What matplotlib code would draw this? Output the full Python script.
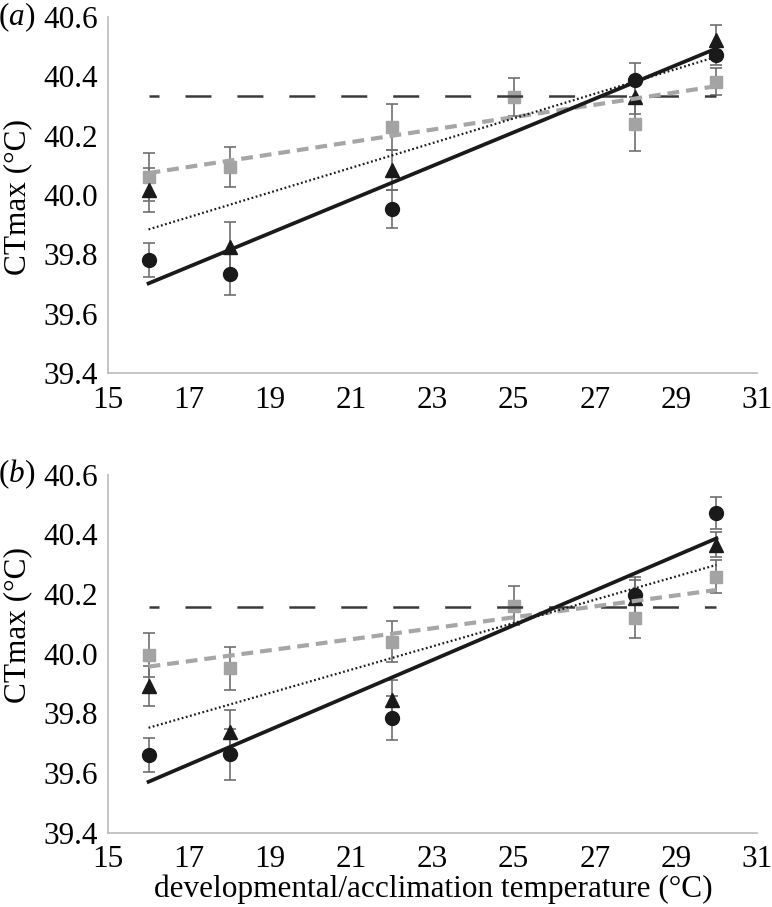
import matplotlib
matplotlib.use("Agg")
import matplotlib.pyplot as plt

plt.rcParams["font.family"] = ["Liberation Serif", "DejaVu Serif"]
plt.rcParams["mathtext.fontset"] = "custom"
plt.rcParams["mathtext.it"] = "Liberation Serif:italic"
plt.rcParams["mathtext.rm"] = "Liberation Serif"
plt.rcParams["lines.scale_dashes"] = False

# temperatures (°C)
temps_ct = [16, 18, 22, 28, 30]
temps_sq = [16, 18, 22, 25, 28, 30]
fit_x = [16, 30]

# panel (a)
circle_a = [39.781, 39.734, 39.952, 40.388, 40.472]
circle_a_err = [0.056, 0.070, 0.064, 0.058, 0.035]
tri_a = [40.017, 39.826, 40.084, 40.331, 40.522]
tri_a_err = [0.073, 0.084, 0.068, 0.058, 0.051]
square_a = [40.060, 40.095, 40.230, 40.331, 40.239, 40.382]
square_a_err = [0.080, 0.067, 0.077, 0.064, 0.091, 0.045]
fit_circle_a = [39.702, 40.494]
fit_tri_a = [39.884, 40.466]
fit_square_a = [40.074, 40.367]
flat_a = 40.335

# panel (b)
circle_b = [39.660, 39.662, 39.783, 40.196, 40.472]
circle_b_err = [0.058, 0.086, 0.073, 0.061, 0.054]
tri_b = [39.891, 39.738, 39.844, 40.187, 40.364]
tri_b_err = [0.066, 0.072, 0.067, 0.060, 0.042]
square_b = [39.995, 39.950, 40.040, 40.160, 40.120, 40.257]
square_b_err = [0.073, 0.073, 0.070, 0.066, 0.069, 0.055]
fit_circle_b = [39.570, 40.386]
fit_tri_b = [39.751, 40.297]
fit_square_b = [39.956, 40.213]
flat_b = 40.157

yticks = [39.4, 39.6, 39.8, 40.0, 40.2, 40.4, 40.6]
xticks = [15, 17, 19, 21, 23, 25, 27, 29, 31]

panels = [
    ("a", circle_a, circle_a_err, tri_a, tri_a_err, square_a, square_a_err,
     fit_circle_a, fit_tri_a, fit_square_a, flat_a, 197),
    ("b", circle_b, circle_b_err, tri_b, tri_b_err, square_b, square_b_err,
     fit_circle_b, fit_tri_b, fit_square_b, flat_b, 625),
]

fig = plt.figure(figsize=(7.72, 9.07), dpi=100)
W, H = 772, 907
boxes = [(17, 373), (474.5, 832.5)]
fs_txt = 22.5

err_col = "#707070"
for (tag, c, ce, t, te, s, se, fc, ft, fsq, flat, ylab_y), (top, bot) in zip(panels, boxes):
    ax = fig.add_axes([108 / W, 1 - bot / H, 649 / W, (bot - top) / H])

    for xs, ys, es in [(temps_sq, s, se), (temps_ct, t, te), (temps_ct, c, ce)]:
        ax.errorbar(xs, ys, yerr=es, fmt="none", ecolor=err_col,
                    elinewidth=1.2, capsize=4, capthick=1.2, zorder=2)

    ax.plot(temps_sq, s, "s", color="#a3a3a3", markersize=8.8, zorder=3)
    ax.plot(temps_ct, t, "^", color="#1a1a1a", markersize=9.5, zorder=3)
    ax.plot(temps_ct, c, "o", color="#1a1a1a", markersize=10, zorder=3)

    # trend lines
    ax.plot(fit_x, [flat, flat], color="#3a3a3a", linewidth=1.8,
            linestyle=(11.5, (18.7, 18.7)), zorder=4)
    ax.plot(fit_x, fsq, color="#a6a6a6", linewidth=3,
            linestyle=(0, (8.5, 5)), zorder=4)
    ax.plot(fit_x, ft, color="#1a1a1a", linewidth=1.6,
            linestyle=(0, (1.3, 1.8)), zorder=5)
    ax.plot(fit_x, fc, color="#1a1a1a", linewidth=2.7, zorder=5)

    ax.set_xlim(15, 31)
    ax.set_ylim(39.4, 40.6)
    ax.set_xticks(xticks)
    ax.set_yticks(yticks)
    ax.set_yticklabels(["%.1f" % v for v in yticks])
    ax.tick_params(length=0, labelsize=fs_txt)
    ax.tick_params(axis="y", pad=7)
    ax.tick_params(axis="x", pad=9)
    for side in ["top", "right"]:
        ax.spines[side].set_visible(False)
    for side in ["left", "bottom"]:
        ax.spines[side].set_color("#bfbfbf")
        ax.spines[side].set_linewidth(1.3)

    fig.text(18 / W, 1 - ylab_y / H, "CTmax (°C)", fontsize=fs_txt,
             rotation=90, ha="center", va="center")
    fig.text(17 / W, 1 - top / H, r"($\it{%s}$)" % tag, fontsize=fs_txt,
             ha="center", va="center")

fig.text(433 / W, 1 - 889 / H, "developmental/acclimation temperature (°C)",
         fontsize=fs_txt, ha="center", va="center")

fig.savefig("out.png", dpi=100)
